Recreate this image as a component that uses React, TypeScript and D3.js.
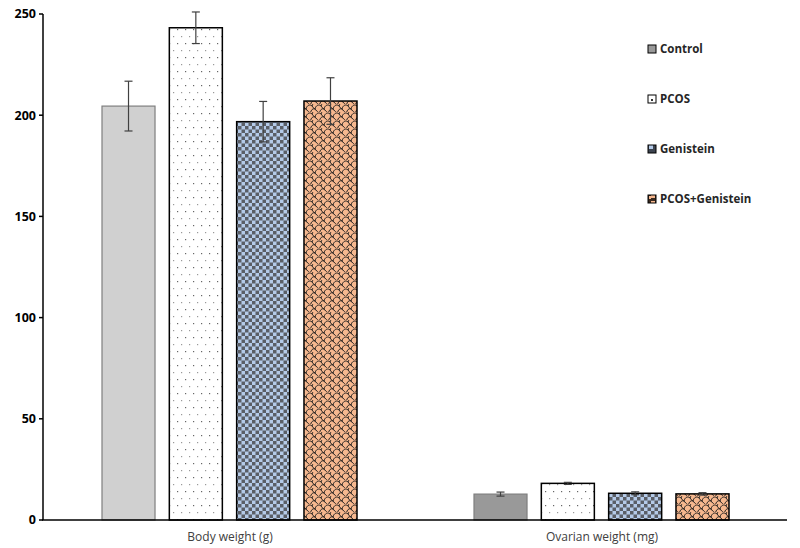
import React from "react";
import * as d3 from "d3";

const categories = ["Body weight (g)", "Ovarian weight (mg)"];
const groups = ["Control", "PCOS", "Genistein", "PCOS+Genistein"];
const controlValues = [204.5, 12.8];
const pcosValues = [243.2, 18.1];
const genisteinValues = [196.8, 13.2];
const pcosGenValues = [207.0, 12.9];
const controlErr = [12.3, 1.0];
const pcosErr = [7.8, 0.5];
const genisteinErr = [10.0, 0.7];
const pcosGenErr = [11.5, 0.6];
const yTicks = [0, 50, 100, 150, 200, 250];

const seriesValues = [controlValues, pcosValues, genisteinValues, pcosGenValues];
const seriesErr = [controlErr, pcosErr, genisteinErr, pcosGenErr];

const W = 800;
const H = 548;
const left = 43;
const right = 787;
const top = 14;
const bottom = 520;
const groupSpan = 255;

export default function App() {
  const x0 = d3.scaleBand<string>().domain(categories).range([left, right]).paddingInner(0).paddingOuter(0);
  const x1 = d3.scaleBand<string>().domain(groups).range([0, groupSpan]).paddingInner(0.2125).paddingOuter(0);
  const y = d3.scaleLinear().domain([0, 250]).range([bottom, top]);
  const groupOffset = (x0.bandwidth() - groupSpan) / 2 + 0.5;

  const fills = (gi: number, ci: number) => {
    if (gi === 0) return ci === 0 ? "#d0d0d0" : "#999999";
    if (gi === 1) return "url(#dots)";
    if (gi === 2) return "url(#checker)";
    return "url(#scales)";
  };
  const strokes = (gi: number) => (gi === 0 ? "#7f7f7f" : "#000000");
  const legendFills = ["#999999", "url(#dotsL)", "url(#checkerL)", "url(#scalesL)"];

  return (
    <svg width={W} height={H} style={{ position: "absolute", left: 0, top: 0, background: "#fff" }}>
      <defs>
        <pattern id="dots" width="8" height="14" patternUnits="userSpaceOnUse">
          <rect width="8" height="14" fill="#ffffff" />
          <rect x="1" y="1" width="1.2" height="1.2" fill="#666" />
          <rect x="5" y="8" width="1.2" height="1.2" fill="#999" />
        </pattern>
        <pattern id="checker" width="7" height="7" patternUnits="userSpaceOnUse">
          <rect width="7" height="7" fill="#b4cae8" />
          <rect x="0" y="0" width="3.5" height="3.5" fill="#5a5e66" />
          <rect x="3.5" y="3.5" width="3.5" height="3.5" fill="#5a5e66" />
        </pattern>
        <pattern id="scales" width="9" height="8" patternUnits="userSpaceOnUse">
          <rect width="9" height="8" fill="#f6b88f" />
          <path d="M0,5 C1,1 4,0 6,2 C7,3 8,5 9,5 M4.5,9 C5,6 7,4 9,5 M0,5 C1,6 2,8 4.5,9 M6,2 C6.5,0 8,-1 9,-2" fill="none" stroke="#1a1a1a" strokeWidth="1" />
        </pattern>
        <pattern id="dotsL" width="8" height="8" patternUnits="userSpaceOnUse">
          <rect width="8" height="8" fill="#fff" />
          <rect x="3" y="3" width="2" height="2" fill="#333" />
        </pattern>
        <pattern id="checkerL" width="8" height="8" patternUnits="userSpaceOnUse">
          <rect width="8" height="8" fill="#3d4450" />
          <rect x="1" y="1" width="4" height="4" fill="#b4cae8" />
        </pattern>
        <pattern id="scalesL" width="8" height="8" patternUnits="userSpaceOnUse">
          <rect width="8" height="8" fill="#3a2a20" />
          <rect x="3" y="1" width="4" height="5" fill="#f6b88f" />
          <rect x="1" y="4" width="2" height="3" fill="#f6b88f" />
        </pattern>
      </defs>

      {categories.map((cat, ci) =>
        groups.map((g, gi) => {
          const v = seriesValues[gi][ci];
          const e = seriesErr[gi][ci];
          const bx = (x0(cat) as number) + groupOffset + (x1(g) as number);
          const bw = x1.bandwidth();
          const cx = bx + bw / 2;
          return (
            <g key={cat + g}>
              <rect x={bx} y={y(v)} width={bw} height={bottom - y(v)} fill={fills(gi, ci)} stroke={strokes(gi)} strokeWidth={gi === 0 ? 1.2 : 1.5} />
              <line x1={cx} x2={cx} y1={y(v + e)} y2={y(v - e)} stroke="#404040" strokeWidth={1.2} />
              <line x1={cx - 4} x2={cx + 4} y1={y(v + e)} y2={y(v + e)} stroke="#404040" strokeWidth={1.2} />
              <line x1={cx - 4} x2={cx + 4} y1={y(v - e)} y2={y(v - e)} stroke="#404040" strokeWidth={1.2} />
            </g>
          );
        })
      )}

      {/* axes */}
      <line x1={left} x2={left} y1={top} y2={bottom} stroke="#000" strokeWidth={1.5} />
      <line x1={left - 1} x2={right} y1={bottom} y2={bottom} stroke="#000" strokeWidth={1.5} />
      {yTicks.map((t) => (
        <g key={t}>
          <line x1={left - 4} x2={left} y1={y(t)} y2={y(t)} stroke="#000" strokeWidth={1.5} />
          <text x={left - 7} y={y(t)} dy="0.35em" textAnchor="end" fontFamily="Open Sans, sans-serif" fontWeight="bold" fontSize={12.5} fill="#000">
            {t}
          </text>
        </g>
      ))}
      {categories.map((cat) => (
        <text key={cat} x={(x0(cat) as number) + x0.bandwidth() / 2 + 1} y={541} textAnchor="middle" fontFamily="Open Sans, sans-serif" fontSize={12} fill="#404040">
          {cat}
        </text>
      ))}

      {/* legend */}
      {groups.map((g, gi) => {
        const ly = 49 + gi * 50;
        return (
          <g key={g}>
            <rect x={648} y={ly - 4} width={8} height={8} fill={legendFills[gi]} stroke="#000" strokeWidth={1} />
            <text x={660} y={ly} dy="0.35em" fontFamily="Open Sans, sans-serif" fontWeight="bold" fontSize={11.5} fill="#262626">
              {g}
            </text>
          </g>
        );
      })}
    </svg>
  );
}
